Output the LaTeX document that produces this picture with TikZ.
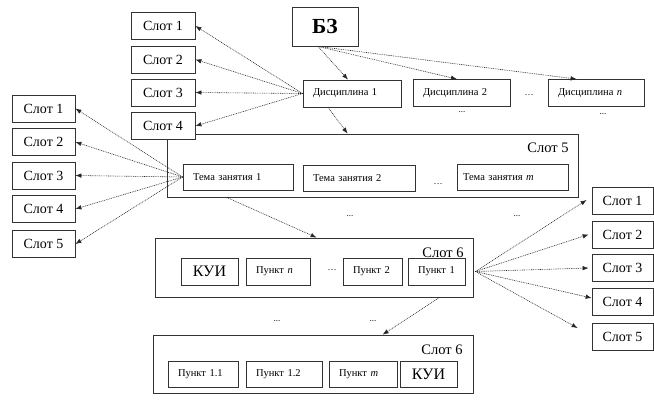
\documentclass[tikz,border=0pt]{standalone}
\usepackage{fontspec}
\setmainfont{Liberation Serif}
\usetikzlibrary{arrows.meta,calc}
\begin{document}
\begin{tikzpicture}[x=1pt,y=-1pt,
  box/.style={draw=black!80,line width=0.8pt,fill=white,inner sep=0pt,anchor=center},
  slotbox/.style={box,minimum width=63pt,minimum height=27pt,font=\fontsize{14}{16}\selectfont},
  % small boxes: text set flush left, 10pt from the left edge
  smallbox/.style={box,minimum height=27pt,inner xsep=10pt,align=left,
    text width=#1-20pt,font=\fontsize{10.5}{12}\selectfont},
  bigbox/.style={draw=black!80,line width=0.8pt,fill=white},
  lbl/.style={inner sep=0pt,font=\fontsize{14.5}{16}\selectfont},
  gap/.style={inner sep=0pt,font=\fontsize{9}{11}\selectfont},
  link/.style={draw=black!85,line width=0.6pt,dash pattern=on 0.9pt off 0.9pt,
    -{Latex[length=6pt,width=4.5pt]}}
]
\useasboundingbox (0,0) rectangle (654,415);

% container boxes
\node[bigbox,minimum width=411pt,minimum height=63pt,inner sep=0pt] (s5) at (372.5,165.5) {};
\node[lbl] (s5l) at (548,148) {Слот 5};
\node[bigbox,minimum width=318pt,minimum height=59pt,inner sep=0pt] (s6a) at (314,267.5) {};
\node[bigbox,minimum width=320pt,minimum height=58pt,inner sep=0pt] (s6b) at (313,364) {};

% knowledge base and disciplines
\node[box,minimum width=66pt,minimum height=39pt,font=\fontsize{21.5}{23}\selectfont\bfseries] (bz) at (325,26.5) {БЗ};
\node[smallbox=98pt] (d1) at (352,93.5) {Дисциплина 1};
\node[smallbox=97pt] (d2) at (461.5,93) {Дисциплина 2};
\node[smallbox=96pt] (dn) at (596,93) {Дисциплина \textit{n}};
\node[gap] (gd) at (529,95) {\dots};
\node[gap] (gd2) at (462,112) {...};
\node[gap] (gdn) at (603,114) {...};

% slots of a discipline
\node[slotbox,minimum width=64pt] (tl1) at (163,26) {Слот 1};
\node[slotbox,minimum width=64pt] (tl2) at (163,59.5) {Слот 2};
\node[slotbox,minimum width=64pt] (tl3) at (163,92.5) {Слот 3};
\node[slotbox,minimum width=64pt] (tl4) at (163,126) {Слот 4};

% topics
\node[smallbox=110pt,minimum height=26pt] (t1) at (238,177) {Тема занятия 1};
\node[smallbox=112pt,minimum height=26pt] (t2) at (359,178) {Тема занятия 2};
\node[gap] (gt) at (438,184) {\dots};
\node[smallbox=111pt,minimum height=26pt,inner xsep=6pt,text width=99pt] (tm) at (512.5,177.5) {Тема занятия \textit{m}};
\node[gap] (gt1) at (350,216) {...};
\node[gap] (gt2) at (517,216) {...};

% slots of a topic
\node[slotbox] (ls1) at (43.5,108.5) {Слот 1};
\node[slotbox] (ls2) at (43.5,142) {Слот 2};
\node[slotbox] (ls3) at (43.5,175.5) {Слот 3};
\node[slotbox] (ls4) at (43.5,209) {Слот 4};
\node[slotbox] (ls5) at (43.5,244) {Слот 5};

% items, first level
\node[lbl] (s6al) at (443,253) {Слот 6};
\node[box,minimum width=57pt,minimum height=27pt,font=\fontsize{16}{18}\selectfont] (k1) at (209.5,271.5) {КУИ};
\node[smallbox=64pt] (pn) at (278,271.5) {Пункт \textit{n}};
\node[gap] (gp) at (332,270) {\dots};
\node[smallbox=59pt] (p2) at (372.5,271.5) {Пункт 2};
\node[smallbox=57pt] (p1) at (436.5,271.5) {Пункт 1};
\node[gap] (gp1) at (277,321) {...};
\node[gap] (gp2) at (373,321) {...};

% slots of an item
\node[slotbox,minimum width=61pt] (rs1) at (622.5,200.5) {Слот 1};
\node[slotbox,minimum width=61pt] (rs2) at (622.5,234.5) {Слот 2};
\node[slotbox,minimum width=61pt] (rs3) at (622.5,268) {Слот 3};
\node[slotbox,minimum width=61pt] (rs4) at (622.5,302) {Слот 4};
\node[slotbox,minimum width=61pt] (rs5) at (622.5,336.5) {Слот 5};

% items, second level
\node[lbl] (s6bl) at (442,350) {Слот 6};
\node[smallbox=70pt,minimum height=26pt] (p11) at (203,374) {Пункт 1.1};
\node[smallbox=76pt,minimum height=26pt] (p12) at (284,374) {Пункт 1.2};
\node[smallbox=68pt,minimum height=26pt] (pm) at (363,374) {Пункт \textit{m}};
\node[box,minimum width=57pt,minimum height=26pt,font=\fontsize{16}{18}\selectfont] (k2) at (428.5,374) {КУИ};

% connectors
\coordinate (bzo) at ([xshift=-7pt]bz.south);
\draw[link] (bzo) -- ([xshift=-4pt]d1.north);
\draw[link] (bzo) -- ([xshift=-4.5pt]d2.north);
\draw[link] (bzo) -- ([xshift=29pt]dn.north west);

\foreach \s in {tl1,tl2,tl3,tl4} \draw[link] (d1.west) -- (\s.east);
\draw[link] ([xshift=-24pt]d1.south) -- ([xshift=181pt]s5.north west);

\foreach \s in {ls1,ls2,ls3,ls4,ls5} \draw[link] (t1.west) -- (\s.east);
\draw[link] ([xshift=60pt]s5.south west) -- ([xshift=162pt]s6a.north west);

\coordinate (p1o) at ([xshift=10pt]p1.east);
\draw[link] (p1o) -- ([xshift=-5pt,yshift=0.5pt]rs1.west);
\draw[link] (p1o) -- ([xshift=-3pt]rs2.west);
\draw[link] (p1o) -- ([xshift=-3pt]rs3.west);
\draw[link] (p1o) -- ([yshift=4pt]rs4.west);
\draw[link] (p1o) -- ([xshift=-14pt,yshift=8.5pt]rs5.west);

\draw[link] ([xshift=285pt]s6a.south west) -- ([xshift=230pt]s6b.north west);
\end{tikzpicture}
\end{document}
